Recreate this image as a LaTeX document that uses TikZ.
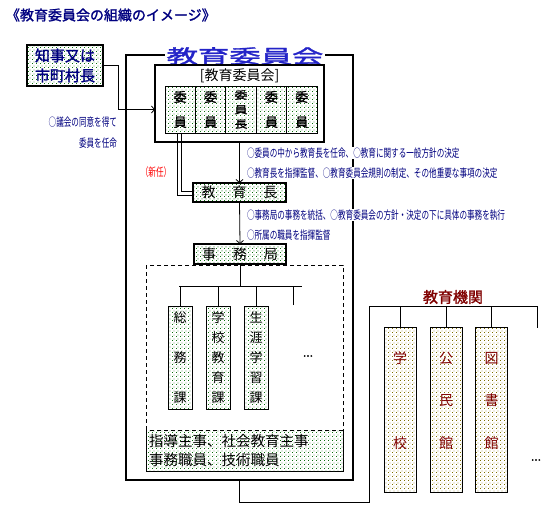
\documentclass[tikz,border=0pt]{standalone}
\usepackage{fontspec}
\setmainfont{Noto Sans CJK JP}
\newfontfamily\jp{Noto Sans CJK JP}
\newfontfamily\jpn[FakeStretch=0.66]{Noto Sans CJK JP}
\newfontfamily\jpb[FakeBold=1.5]{Noto Sans CJK JP}
\usetikzlibrary{patterns,arrows.meta}
\definecolor{navy}{HTML}{000080}
\definecolor{tblue}{HTML}{2424C8}
\definecolor{dred}{HTML}{800000}
\definecolor{dgreen}{HTML}{107010}
\definecolor{dolive}{HTML}{807000}
\pgfdeclarepatternformonly{gdots}{\pgfpointorigin}{\pgfpoint{4pt}{4pt}}{\pgfpoint{4pt}{4pt}}{%
  \pgfpathrectangle{\pgfpointorigin}{\pgfpoint{1pt}{1pt}}%
  \pgfpathrectangle{\pgfpoint{2pt}{2pt}}{\pgfpoint{1pt}{1pt}}%
  \pgfusepath{fill}}
\begin{document}
\begin{tikzpicture}[x=1pt,y=-1pt,
  every node/.style={inner sep=0pt, outer sep=0pt},
  gfill/.style={pattern=gdots, pattern color=dgreen},
  ofill/.style={pattern=gdots, pattern color=dolive},
  bigbox/.style={draw, line width=2.4pt},
  thin/.style={line width=0.8pt},
  note/.style={font=\jpn\fontsize{11.5}{11.5}\selectfont, text=navy, anchor=west, fill=white, inner xsep=1pt, inner ysep=1pt},
  arr/.style={thin, -{Straight Barb[length=3pt,width=7pt]}},
  cell/.style={draw, thin, gfill, minimum width=30.4, minimum height=47, align=center, font=\jpb\fontsize{13}{25}\selectfont},
  dept/.style={draw, thin, gfill, minimum width=24, minimum height=103, align=center, font=\jp\fontsize{13}{20}\selectfont},
  inst/.style={draw, thin, ofill, minimum width=32, minimum height=165},
  itext/.style={align=center, text=dred, font=\jp\fontsize{14}{42.5}\selectfont},
  dashline/.style={thin, dash pattern=on 4pt off 3pt},
]
\useasboundingbox (0,0) rectangle (548,512);
\fill[white] (0,0) rectangle (548,512);

% title
\node[anchor=west, text=navy, font=\jpb\fontsize{14}{14}\selectfont] (title) at (6,15) {《教育委員会の組織のイメージ》};

% governor
\node[bigbox, gfill, minimum width=76, minimum height=41, text=navy, align=center,
      font=\jpb\fontsize{15}{20}\selectfont] (gov) at (65,65.5) {知事又は\\市町村長};

% outer frame
\node[draw, line width=2.4pt, minimum width=227, minimum height=425] (frame) at (239.5,267.5) {};
\node[fill=white, inner xsep=2pt, text=tblue, font=\jpb\fontsize{19}{19}\selectfont] (bigtitle) at (245,56) {\scalebox{1.65}[1]{教育委員会}};

% board
\node[bigbox, fill=white, minimum width=169, minimum height=77] (board) at (239.5,103.5) {};
\node[font=\jp\fontsize{14}{14}\selectfont] (boardlbl) at (239.5,76) {[教育委員会]};
\node[cell] (m1) at (180.2,109.5) {委\\員};
\node[cell] (m2) at (210.6,109.5) {委\\員};
\node[cell, font=\jpb\fontsize{13}{14.5}\selectfont] (m3) at (241,109.5) {\scalebox{1}[0.8]{委}\\\scalebox{1}[0.8]{員}\\\scalebox{1}[0.8]{長}};
\node[cell] (m4) at (271.4,109.5) {委\\員};
\node[cell] (m5) at (301.8,109.5) {委\\員};

% governor -> board
\draw[arr] (gov.east) -- ++(15,0) |- (board.west |- m1);
\node[note, anchor=east, fill=none] (n0a) at (118,122) {○議会の同意を得て};
\node[note, anchor=east, fill=none] (n0b) at (118,143) {委員を任命};

% chief
\node[bigbox, gfill, minimum width=93, minimum height=19, font=\jp\fontsize{14}{14}\selectfont] (chief) at (239.5,192.5) {教\hspace{17pt}育\hspace{17pt}長};
\draw[thin] ([xshift=-3pt]m1.south) |- ([yshift=-2.5pt]chief.west);
\draw[thin] ([xshift=1pt]m1.south) |- ([yshift=1.5pt]chief.west);
\node[text=red, font=\jpn\fontsize{11.5}{11.5}\selectfont] (new) at (156,172) {（新任）};
\draw[arr] (board.south -| chief) -- (chief.north);

\node[note] (n1) at (246,153) {○委員の中から教育長を任命、○教育に関する一般方針の決定};
\node[note] (n2) at (246,173) {○教育長を指揮監督、○教育委員会規則の制定、その他重要な事項の決定};
\node[note] (n3) at (246,215) {○事務局の事務を統括、○教育委員会の方針・決定の下に具体の事務を執行};
\node[note] (n4) at (246,235) {○所属の職員を指揮監督};

% secretariat area
\draw[dashline] (146,265) rectangle (343,471);
\node[bigbox, gfill, minimum width=92, minimum height=20, font=\jp\fontsize{14}{14}\selectfont] (office) at (240,254) {事\hspace{17pt}務\hspace{17pt}局};
\draw[arr] (chief.south) -- (office.north);

\node[dept] (d1) at (180,357.5) {総\\\mbox{}\\務\\\mbox{}\\課};
\node[dept] (d2) at (218,357.5) {学\\校\\教\\育\\課};
\node[dept] (d3) at (256,357.5) {生\\涯\\学\\習\\課};
\coordinate (bar) at (240,286);
\coordinate (barL) at (179,286);
\coordinate (barR) at (302,286);
\coordinate (d4) at (293,305);
\draw[thin] (office.south) -- (bar);
\draw[thin] (barL) -- (barR);
\draw[thin] (d1.north) -- (d1.north |- bar);
\draw[thin] (d2.north) -- (d2.north |- bar);
\draw[thin] (d3.north) -- (d3.north |- bar);
\draw[thin] (d4) -- (d4 |- bar);
\node[font=\jpb\fontsize{12}{12}\selectfont] (dots1) at (308,356) {...};

\node[draw, dashline, gfill, minimum width=197, minimum height=41, text width=191, inner xsep=3pt, align=left,
      font=\jp\fontsize{14.5}{19}\selectfont] (staff) at (244.5,450.5) {指導主事、社会教育主事\\事務職員、技術職員};

% educational institutions
\node[text=dred, font=\jpb\fontsize{15}{15}\selectfont] (instlbl) at (453,297) {教育機関};
\coordinate (ibarL) at (369,306);
\coordinate (ibarR) at (537,306);
\coordinate (i4) at (537,328);
\draw[thin] (frame.south) |- (369,502) -- (ibarL) -- (ibarR) -- (i4);
\node[inst] (s1) at (400,409.5) {};
\node[inst] (s2) at (446,409.5) {};
\node[inst] (s3) at (491.5,409.5) {};
\draw[thin] (s1.north) -- (s1.north |- ibarL);
\draw[thin] (s2.north) -- (s2.north |- ibarL);
\draw[thin] (s3.north) -- (s3.north |- ibarL);
\node[itext] (s1t) at ([yshift=9pt]s1.center) {学\\\mbox{}\\校};
\node[itext] (s2t) at ([yshift=9pt]s2.center) {公\\民\\館};
\node[itext] (s3t) at ([yshift=9pt]s3.center) {図\\書\\館};
\node[font=\jpb\fontsize{12}{12}\selectfont] (dots2) at (536,460) {...};
\end{tikzpicture}
\end{document}
